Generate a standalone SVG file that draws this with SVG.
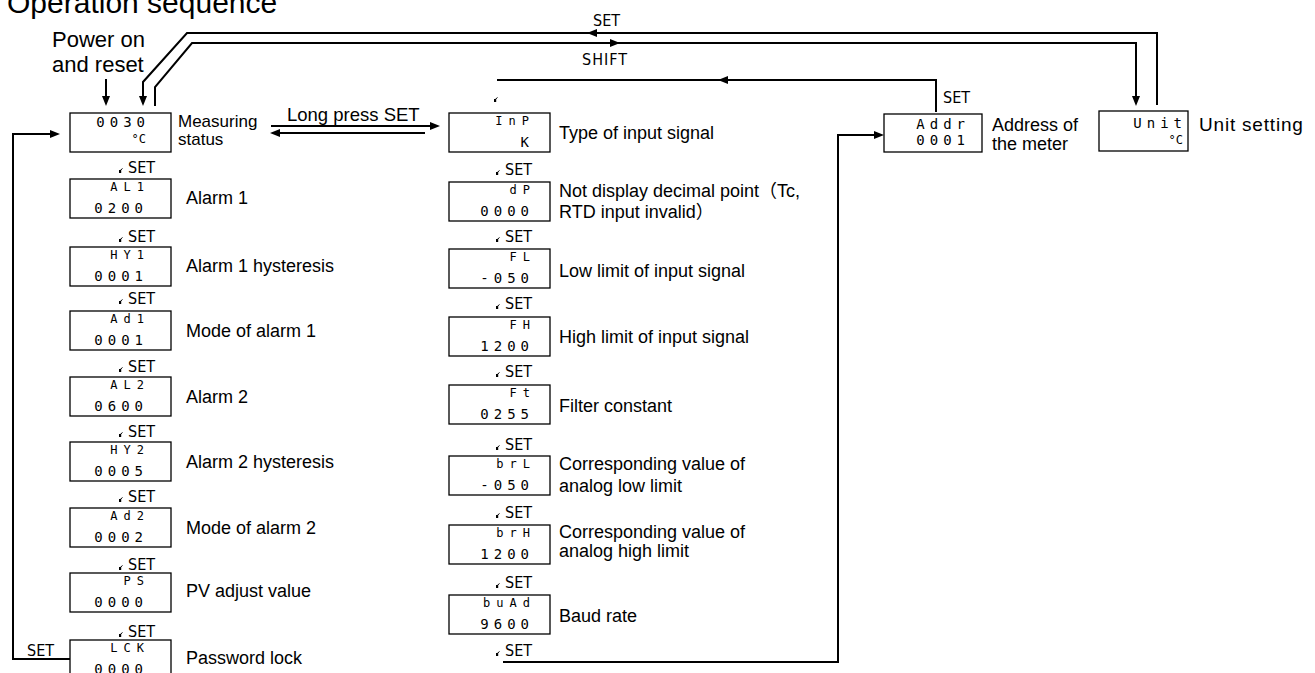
<svg xmlns="http://www.w3.org/2000/svg" width="1315" height="673" viewBox="0 0 1315 673">
<defs>
<style>
.bg{fill:#fff}
.box{fill:#fff;stroke:#000;stroke-width:1.3}
.ln{fill:none;stroke:#000;stroke-width:2}
.ah{fill:#000}
.t{font-family:"Liberation Sans",Arial,"Noto Sans CJK SC",sans-serif;fill:#000}
.lab{font-size:18px}
.set{font-family:"DejaVu Sans Condensed","Liberation Sans Narrow",sans-serif;font-size:16px;fill:#000}
.d1{font-family:"DejaVu Sans Mono",monospace;font-size:12px;letter-spacing:6px;text-anchor:end;fill:#000}
.d2{font-family:"DejaVu Sans Mono",monospace;font-size:14px;letter-spacing:5px;text-anchor:end;fill:#000}
.dc{font-family:"DejaVu Sans Mono",monospace;font-size:12px;text-anchor:end;fill:#000}
</style>
<g id="tick"><rect x="0" y="3" width="2.2" height="3"/><path d="M1.2,3.5 L3.5,1.5" stroke="#000" stroke-width="1"/></g>
</defs>
<rect class="bg" width="1315" height="673"/>
<text class="t" x="7" y="13" font-size="30">Operation sequence</text>
<text class="t" x="52" y="47" font-size="22">Power on</text>
<text class="t" x="52" y="72" font-size="22">and reset</text>

<g id="connectors">
<polyline class="ln" points="1157,105 1157,33 187,33 143,82 143,98"/>
<path class="ah" d="M143,106 L139,96 L147,96 Z"/>
<polyline class="ln" points="155,106 155,87 192,43 1136,43 1136,97"/>
<path class="ah" d="M1136,106 L1132,96 L1140,96 Z"/>
<path class="ah" d="M587,33 L597,29 L597,37 Z"/>
<path class="ah" d="M620,43 L610,39 L610,47 Z"/>
<line class="ln" x1="106" y1="79" x2="106" y2="98"/>
<path class="ah" d="M106,106 L102,96 L110,96 Z"/>
<line class="ln" x1="271" y1="126" x2="432" y2="126"/>
<path class="ah" d="M440,126 L430,122 L430,130 Z"/>
<line class="ln" x1="425" y1="133" x2="278" y2="133"/>
<path class="ah" d="M270,133 L280,129 L280,137 Z"/>
<polyline class="ln" points="70,659 13,659 13,134 52,134"/>
<path class="ah" d="M60,134 L50,130 L50,138 Z"/>
<polyline class="ln" points="936,112 936,80 497,80"/>
<path class="ah" d="M718,80 L728,76 L728,84 Z"/>
<polyline class="ln" points="503,662 838,662 838,135 876,135"/>
<path class="ah" d="M884,135 L874,131 L874,139 Z"/>
<text class="set" x="593" y="26">SET</text>
<text class="set" x="582" y="65" letter-spacing="1">SHIFT</text>
<text class="set" x="943" y="103">SET</text>
<text class="set" x="27" y="656">SET</text>
<use href="#tick" x="494" y="96"/>
<text class="t" x="287" y="121" font-size="18.5">Long press SET</text>
</g>

<g id="measuring">
<rect class="box" x="70" y="113" width="101" height="39"/>
<text class="d2" x="150" y="127">0030</text>
<text class="dc" x="146" y="143">°C</text>
<text class="t" x="178" y="127" font-size="17">Measuring</text>
<text class="t" x="178" y="145" font-size="17">status</text>
</g>

<g id="al1">
<use href="#tick" x="119" y="167"/><text class="set" x="128" y="173">SET</text>
<rect class="box" x="70" y="179" width="101" height="39"/>
<text class="d1" x="150" y="191">AL1</text><text class="d2" x="148" y="213">0200</text>
<text class="t lab" x="186" y="204">Alarm 1</text>
</g>
<g id="hy1">
<use href="#tick" x="119" y="236"/><text class="set" x="128" y="242">SET</text>
<rect class="box" x="70" y="247" width="101" height="39"/>
<text class="d1" x="150" y="259">HY1</text><text class="d2" x="148" y="281">0001</text>
<text class="t lab" x="186" y="272">Alarm 1 hysteresis</text>
</g>
<g id="ad1">
<use href="#tick" x="119" y="298"/><text class="set" x="128" y="304">SET</text>
<rect class="box" x="70" y="311" width="101" height="39"/>
<text class="d1" x="150" y="323">Ad1</text><text class="d2" x="148" y="345">0001</text>
<text class="t lab" x="186" y="337">Mode of alarm 1</text>
</g>
<g id="al2">
<use href="#tick" x="119" y="366"/><text class="set" x="128" y="372">SET</text>
<rect class="box" x="70" y="377" width="101" height="39"/>
<text class="d1" x="150" y="389">AL2</text><text class="d2" x="148" y="411">0600</text>
<text class="t lab" x="186" y="403">Alarm 2</text>
</g>
<g id="hy2">
<use href="#tick" x="119" y="431"/><text class="set" x="128" y="437">SET</text>
<rect class="box" x="70" y="442" width="101" height="39"/>
<text class="d1" x="150" y="454">HY2</text><text class="d2" x="148" y="476">0005</text>
<text class="t lab" x="186" y="468">Alarm 2 hysteresis</text>
</g>
<g id="ad2">
<use href="#tick" x="119" y="496"/><text class="set" x="128" y="502">SET</text>
<rect class="box" x="70" y="508" width="101" height="39"/>
<text class="d1" x="150" y="520">Ad2</text><text class="d2" x="148" y="542">0002</text>
<text class="t lab" x="186" y="534">Mode of alarm 2</text>
</g>
<g id="ps">
<use href="#tick" x="119" y="564"/><text class="set" x="128" y="570">SET</text>
<rect class="box" x="70" y="573" width="101" height="39"/>
<text class="d1" x="150" y="585">PS</text><text class="d2" x="148" y="607">0000</text>
<text class="t lab" x="186" y="597">PV adjust value</text>
</g>
<g id="lck">
<use href="#tick" x="119" y="631"/><text class="set" x="128" y="637">SET</text>
<rect class="box" x="70" y="640" width="101" height="39"/>
<text class="d1" x="150" y="652">LCK</text><text class="d2" x="148" y="674">0000</text>
<text class="t lab" x="186" y="664">Password lock</text>
</g>

<g id="inp">
<rect class="box" x="449" y="113" width="101" height="39"/>
<text class="d1" x="535" y="125">InP</text><text class="d2" x="534" y="147">K</text>
<text class="t lab" x="559" y="139">Type of input signal</text>
</g>
<g id="dp">
<use href="#tick" x="496" y="169"/><text class="set" x="505" y="175">SET</text>
<rect class="box" x="449" y="182" width="101" height="39"/>
<text class="d1" x="536" y="194">dP</text><text class="d2" x="534" y="216">0000</text>
<text class="t lab" x="559" y="197">Not display decimal point（Tc,</text>
<text class="t lab" x="559" y="218">RTD input invalid）</text>
</g>
<g id="fl">
<use href="#tick" x="496" y="236"/><text class="set" x="505" y="242">SET</text>
<rect class="box" x="449" y="249" width="101" height="39"/>
<text class="d1" x="536" y="261">FL</text><text class="d2" x="534" y="283">-050</text>
<text class="t lab" x="559" y="277">Low limit of input signal</text>
</g>
<g id="fh">
<use href="#tick" x="496" y="303"/><text class="set" x="505" y="309">SET</text>
<rect class="box" x="449" y="317" width="101" height="39"/>
<text class="d1" x="536" y="329">FH</text><text class="d2" x="534" y="351">1200</text>
<text class="t lab" x="559" y="343">High limit of input signal</text>
</g>
<g id="ft">
<use href="#tick" x="496" y="371"/><text class="set" x="505" y="377">SET</text>
<rect class="box" x="449" y="385" width="101" height="39"/>
<text class="d1" x="536" y="397">Ft</text><text class="d2" x="534" y="419">0255</text>
<text class="t lab" x="559" y="412">Filter constant</text>
</g>
<g id="brl">
<use href="#tick" x="496" y="444"/><text class="set" x="505" y="450">SET</text>
<rect class="box" x="449" y="456" width="101" height="39"/>
<text class="d1" x="536" y="468">brL</text><text class="d2" x="534" y="490">-050</text>
<text class="t lab" x="559" y="470">Corresponding value of</text>
<text class="t lab" x="559" y="492">analog low limit</text>
</g>
<g id="brh">
<use href="#tick" x="496" y="512"/><text class="set" x="505" y="518">SET</text>
<rect class="box" x="449" y="525" width="101" height="39"/>
<text class="d1" x="536" y="537">brH</text><text class="d2" x="534" y="559">1200</text>
<text class="t lab" x="559" y="538">Corresponding value of</text>
<text class="t lab" x="559" y="557">analog high limit</text>
</g>
<g id="buad">
<use href="#tick" x="496" y="582"/><text class="set" x="505" y="588">SET</text>
<rect class="box" x="449" y="595" width="101" height="39"/>
<text class="d1" x="536" y="607">buAd</text><text class="d2" x="534" y="629">9600</text>
<text class="t lab" x="559" y="622">Baud rate</text>
<use href="#tick" x="496" y="650"/><text class="set" x="505" y="656">SET</text>
</g>

<g id="addr">
<rect class="box" x="884" y="114" width="98" height="38"/>
<text class="d2" x="970" y="129">Addr</text><text class="d2" x="970" y="145">0001</text>
<text class="t lab" x="992" y="131">Address of</text>
<text class="t lab" x="992" y="150">the meter</text>
</g>
<g id="unit">
<rect class="box" x="1099" y="111" width="89" height="40"/>
<text class="d2" x="1187" y="128">Unit</text><text class="dc" x="1183" y="144">°C</text>
<text class="t" x="1199" y="131" font-size="19" letter-spacing="0.8">Unit setting</text>
</g>
</svg>
